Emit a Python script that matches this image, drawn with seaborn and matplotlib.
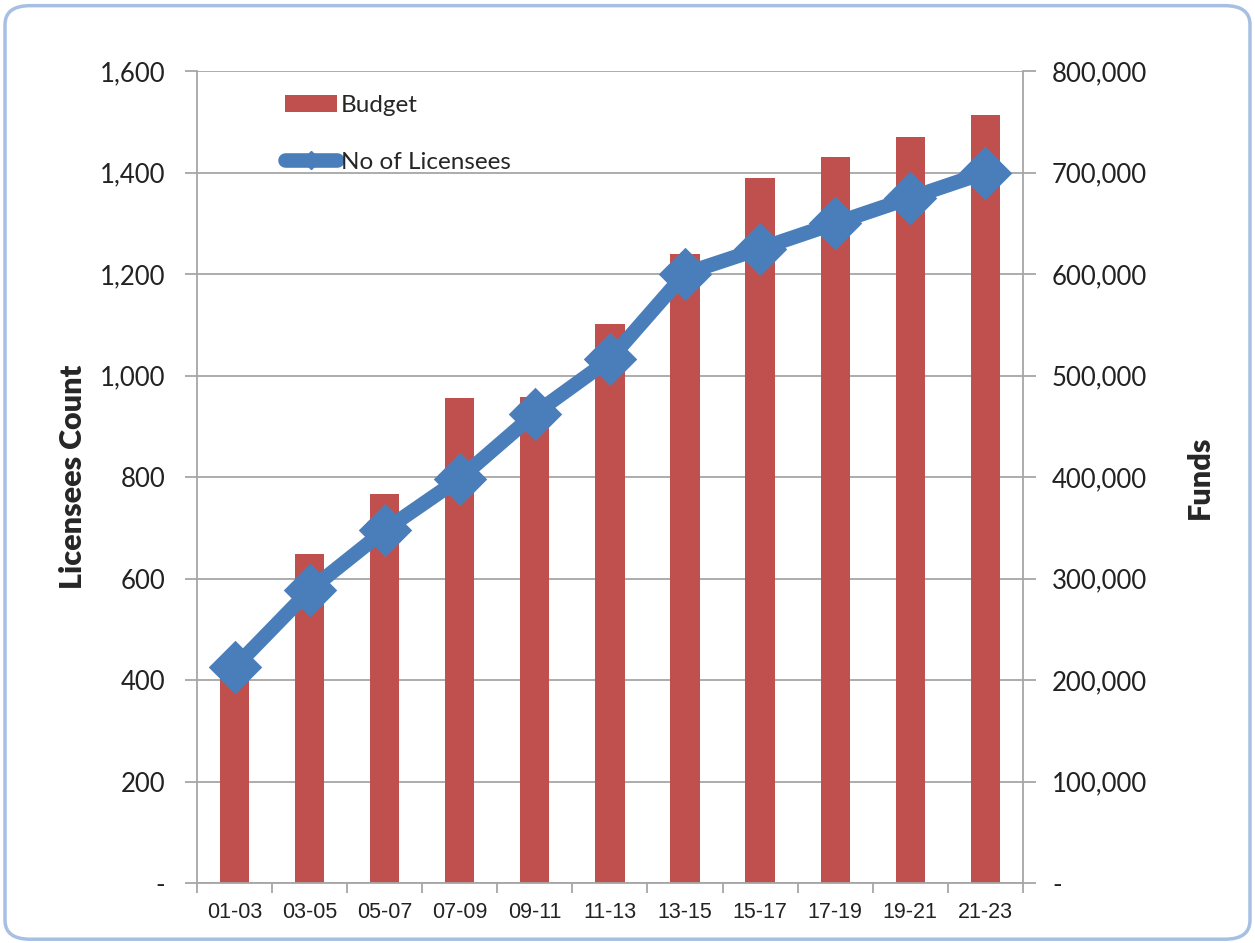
import matplotlib
matplotlib.use("Agg")
import matplotlib.pyplot as plt
import seaborn as sns
import numpy as np
from matplotlib.patches import FancyBboxPatch, Patch
from matplotlib.lines import Line2D
from matplotlib.ticker import FuncFormatter, MultipleLocator

# data
periods = ["01-03", "03-05", "05-07", "07-09", "09-11", "11-13",
           "13-15", "15-17", "17-19", "19-21", "21-23"]
licensees = [425, 577, 695, 797, 925, 1032, 1201, 1250, 1300, 1350, 1400]
budget = [202000, 324000, 383000, 477500, 479000, 551000,
          620000, 695000, 715000, 735000, 757000]

sns.set_theme(style="white")
plt.rcParams['font.family'] = ['Lato', 'DejaVu Sans']

BAR_RED = "#C0504D"
LINE_BLUE = "#4A7EBB"
GRID = "#A6A6A6"

fig = plt.figure(figsize=(12.55, 9.43), dpi=100)
ax2 = fig.add_axes([0.157, 0.0636, 0.658, 0.8611])   # bars, right axis (Funds)
ax = ax2.twinx()                                      # line, left axis
ax.yaxis.tick_left()
ax.yaxis.set_label_position("left")
ax2.yaxis.tick_right()
ax2.yaxis.set_label_position("right")

# bars
sns.barplot(x=periods, y=budget, ax=ax2, color=BAR_RED, width=0.39,
            saturation=1, edgecolor="none", zorder=2)
ax2.set_ylim(0, 800000)
ax2.yaxis.set_major_locator(MultipleLocator(100000))
ax2.yaxis.grid(True, color=GRID, linewidth=1.3)
ax2.set_axisbelow(True)

# line on top
sns.pointplot(x=periods, y=licensees, ax=ax, color=LINE_BLUE, marker="D",
              markersize=19, linewidth=10.5, errorbar=None)
ax.set_ylim(0, 1600)
ax.yaxis.set_major_locator(MultipleLocator(200))
ax.set_zorder(ax2.get_zorder() + 1)
ax.patch.set_visible(False)
ax2.set_xlim(-0.5, len(periods) - 0.5)
ax.set_xlim(-0.5, len(periods) - 0.5)

fmt_left = FuncFormatter(lambda v, p: "-" if v == 0 else f"{int(v):,}")
ax.yaxis.set_major_formatter(fmt_left)
ax2.yaxis.set_major_formatter(fmt_left)

for a in (ax, ax2):
    for s in a.spines.values():
        s.set_visible(False)
    a.set_xlabel("")
for s in ("left", "right", "bottom"):
    ax2.spines[s].set_visible(True)
    ax2.spines[s].set_color(GRID)
    ax2.spines[s].set_linewidth(1.3)

ax.tick_params(axis="y", which="major", left=True, length=9, width=1.3, color=GRID,
               labelsize=18.5, labelcolor="#222222", pad=14)
ax2.tick_params(axis="y", which="major", right=True, length=9, width=1.3, color=GRID,
                labelsize=18.5, labelcolor="#222222", pad=12)

# x ticks: labels centred, tick marks on boundaries
ax2.set_xticks(range(len(periods)))
ax2.set_xticklabels(periods, fontfamily="Liberation Sans", fontsize=15.5, color="#222222")
ax2.set_xticks(np.arange(-0.5, len(periods), 1), minor=True)
ax2.tick_params(axis="x", which="major", length=0, pad=14)
ax2.tick_params(axis="x", which="minor", bottom=True, length=7, width=1.3, color=GRID)
ax.tick_params(axis="x", which="both", bottom=False, labelbottom=False)

ax.set_ylabel("Licensees Count", fontsize=22, fontweight="heavy", labelpad=9)
ax2.set_ylabel("Funds", fontsize=22, fontweight="heavy", labelpad=28)

handles = [Patch(facecolor=BAR_RED, edgecolor="none"),
           Line2D([0], [0], color=LINE_BLUE, linewidth=10.5, marker="D",
                  markersize=9, solid_capstyle="round")]
leg = ax.legend(handles, ["Budget", "No of Licensees"], loc="upper left",
                bbox_to_anchor=(0.08, 0.997), frameon=False, fontsize=17.5,
                handlelength=2.15, handleheight=0.7, handletextpad=0.15,
                labelspacing=1.45)

# rounded frame round the chart
frame = FancyBboxPatch((0.004, 0.004), 0.992, 0.99, boxstyle="round,pad=0,rounding_size=0.02",
                       transform=fig.transFigure, facecolor="none",
                       edgecolor="#A7BFE3", linewidth=2.5)
fig.patches.append(frame)

fig.savefig("out.png", dpi=100)
